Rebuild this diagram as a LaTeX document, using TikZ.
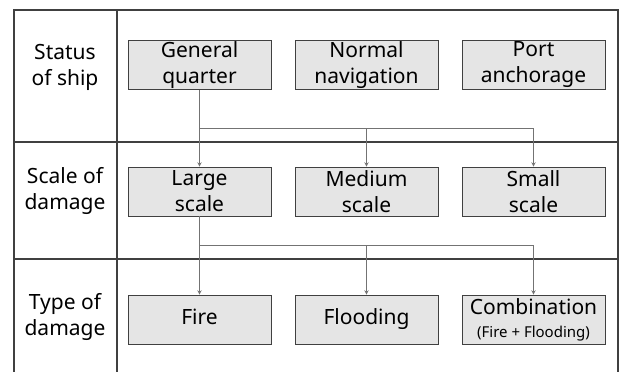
\documentclass[tikz,border=0pt]{standalone}
\usepackage{fontspec}
\setmainfont{Noto Sans}
\usepackage{tikz}
\usetikzlibrary{arrows, positioning}

\begin{document}
\begin{tikzpicture}[x=1pt, y=-1pt, node distance=167pt]

\tikzstyle{state} = [rectangle, text centered, align=center, draw=black!75, fill=black!10, line width=0.9pt, minimum width=143pt, minimum height=49pt, inner sep=0pt, font=\fontsize{21}{26}\selectfont]
\tikzstyle{rowlabel} = [text centered, align=center, font=\fontsize{21}{26}\selectfont]
\tikzstyle{frame} = [draw=black!75, line width=1.1pt]
\tikzstyle{arrow} = [draw=black!55, line width=0.9pt, ->, >=stealth]
\tikzstyle{link} = [draw=black!55, line width=0.9pt]

\useasboundingbox (0,0) rectangle (621,372);

% table frame
\draw [frame] (14,372) -- (14,10) -- (618,10) -- (618,372);
\draw [frame] (117,10) -- (117,372);
\draw [frame] (14,142) -- (618,142);
\draw [frame] (14,259) -- (618,259);

% row labels
\node (ls) [rowlabel] at (65,67) {Status\\of ship};
\node (ld) [rowlabel] at (65,191) {Scale of\\damage};
\node (lt) [rowlabel] at (65,317) {Type of\\damage};

% status of ship
\node (gq) [state] at (199.5,65) {General\\quarter};
\node (nn) [state, right of = gq] {Normal\\navigation};
\node (pa) [state, right of = nn] {Port\\anchorage};

% scale of damage
\node (lg) [state] at (199.5,191.5) {Large\\scale};
\node (md) [state, right of = lg] {Medium\\scale};
\node (sm) [state, right of = md] {Small\\scale};

% type of damage
\node (fi) [state] at (199.5,319.5) {\strut Fire};
\node (fl) [state, right of = fi] {\strut Flooding};
\node (cb) [state, right of = fl] {Combination\\[-3pt]{\fontsize{15}{18}\selectfont(Fire + Flooding)}};

\coordinate (j1) at (199.5,128);
\coordinate (j2) at (199.5,245);

\draw [arrow] (gq) -- (lg);
\draw [link] (j1) -- (md.north |- j1);
\draw [arrow] (j1) -| (md.north);
\draw [arrow] (j1) -| (sm.north);

\draw [arrow] (lg) -- (fi);
\draw [arrow] (j2) -| (fl.north);
\draw [arrow] (j2) -| (cb.north);

\end{tikzpicture}
\end{document}
